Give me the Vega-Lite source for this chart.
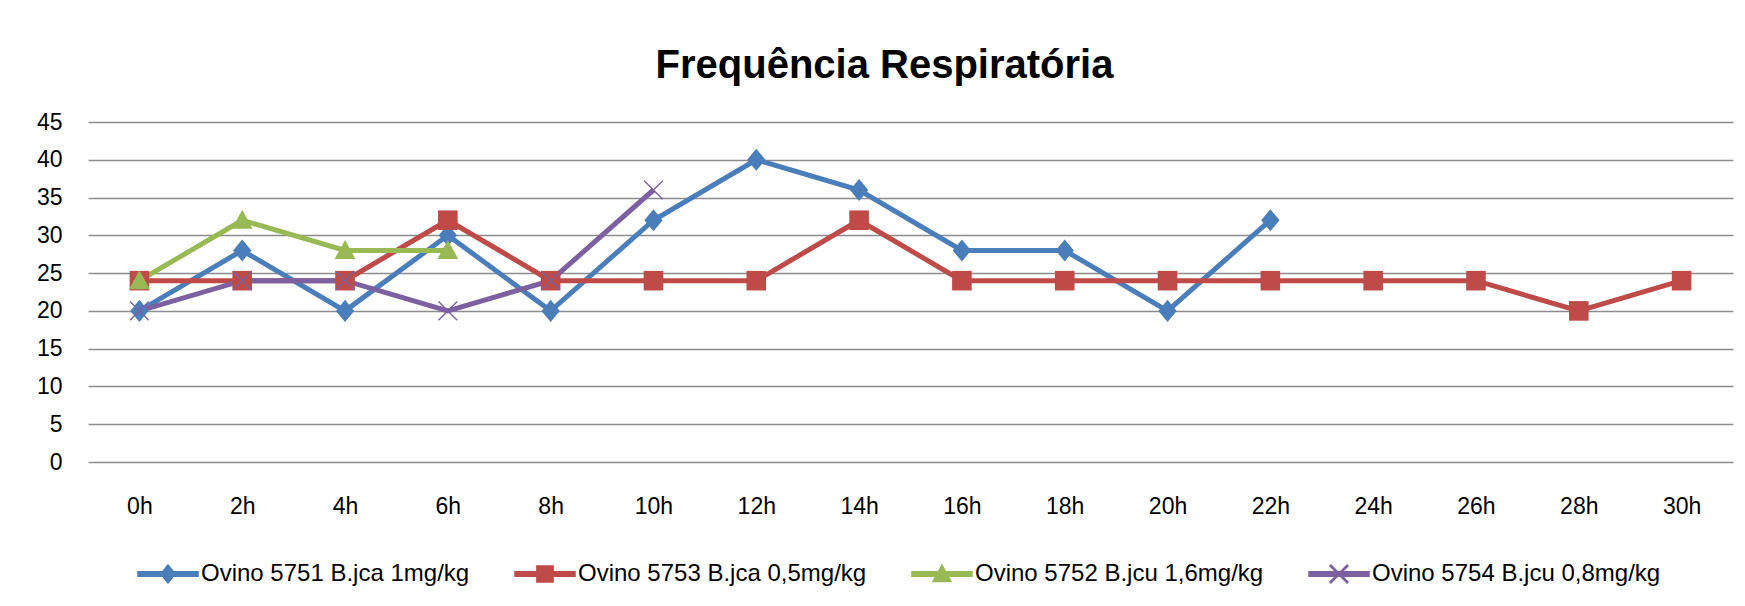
{
  "$schema": "https://vega.github.io/schema/vega-lite/v6.json",
  "width": 1645,
  "height": 340,
  "autosize": "none",
  "padding": {"left": 88, "top": 122, "right": 12, "bottom": 144},
  "background": "white",
  "config": {"view": {"stroke": null}},
  "title": {"text": "Frequência Respiratória", "font": "Liberation Sans", "fontSize": 40, "fontWeight": "bold", "color": "#000000", "anchor": "middle", "dx": -26, "dy": 57, "baseline": "alphabetic", "offset": 50},
  "data": {"values": [
    {"hora": "0h", "serie": "Ovino 5751 B.jca 1mg/kg", "valor": 20},
    {"hora": "2h", "serie": "Ovino 5751 B.jca 1mg/kg", "valor": 28},
    {"hora": "4h", "serie": "Ovino 5751 B.jca 1mg/kg", "valor": 20},
    {"hora": "6h", "serie": "Ovino 5751 B.jca 1mg/kg", "valor": 30},
    {"hora": "8h", "serie": "Ovino 5751 B.jca 1mg/kg", "valor": 20},
    {"hora": "10h", "serie": "Ovino 5751 B.jca 1mg/kg", "valor": 32},
    {"hora": "12h", "serie": "Ovino 5751 B.jca 1mg/kg", "valor": 40},
    {"hora": "14h", "serie": "Ovino 5751 B.jca 1mg/kg", "valor": 36},
    {"hora": "16h", "serie": "Ovino 5751 B.jca 1mg/kg", "valor": 28},
    {"hora": "18h", "serie": "Ovino 5751 B.jca 1mg/kg", "valor": 28},
    {"hora": "20h", "serie": "Ovino 5751 B.jca 1mg/kg", "valor": 20},
    {"hora": "22h", "serie": "Ovino 5751 B.jca 1mg/kg", "valor": 32},
    {"hora": "0h", "serie": "Ovino 5753 B.jca 0,5mg/kg", "valor": 24},
    {"hora": "2h", "serie": "Ovino 5753 B.jca 0,5mg/kg", "valor": 24},
    {"hora": "4h", "serie": "Ovino 5753 B.jca 0,5mg/kg", "valor": 24},
    {"hora": "6h", "serie": "Ovino 5753 B.jca 0,5mg/kg", "valor": 32},
    {"hora": "8h", "serie": "Ovino 5753 B.jca 0,5mg/kg", "valor": 24},
    {"hora": "10h", "serie": "Ovino 5753 B.jca 0,5mg/kg", "valor": 24},
    {"hora": "12h", "serie": "Ovino 5753 B.jca 0,5mg/kg", "valor": 24},
    {"hora": "14h", "serie": "Ovino 5753 B.jca 0,5mg/kg", "valor": 32},
    {"hora": "16h", "serie": "Ovino 5753 B.jca 0,5mg/kg", "valor": 24},
    {"hora": "18h", "serie": "Ovino 5753 B.jca 0,5mg/kg", "valor": 24},
    {"hora": "20h", "serie": "Ovino 5753 B.jca 0,5mg/kg", "valor": 24},
    {"hora": "22h", "serie": "Ovino 5753 B.jca 0,5mg/kg", "valor": 24},
    {"hora": "24h", "serie": "Ovino 5753 B.jca 0,5mg/kg", "valor": 24},
    {"hora": "26h", "serie": "Ovino 5753 B.jca 0,5mg/kg", "valor": 24},
    {"hora": "28h", "serie": "Ovino 5753 B.jca 0,5mg/kg", "valor": 20},
    {"hora": "30h", "serie": "Ovino 5753 B.jca 0,5mg/kg", "valor": 24},
    {"hora": "0h", "serie": "Ovino 5752 B.jcu 1,6mg/kg", "valor": 24},
    {"hora": "2h", "serie": "Ovino 5752 B.jcu 1,6mg/kg", "valor": 32},
    {"hora": "4h", "serie": "Ovino 5752 B.jcu 1,6mg/kg", "valor": 28},
    {"hora": "6h", "serie": "Ovino 5752 B.jcu 1,6mg/kg", "valor": 28},
    {"hora": "0h", "serie": "Ovino 5754 B.jcu 0,8mg/kg", "valor": 20},
    {"hora": "2h", "serie": "Ovino 5754 B.jcu 0,8mg/kg", "valor": 24},
    {"hora": "4h", "serie": "Ovino 5754 B.jcu 0,8mg/kg", "valor": 24},
    {"hora": "6h", "serie": "Ovino 5754 B.jcu 0,8mg/kg", "valor": 20},
    {"hora": "8h", "serie": "Ovino 5754 B.jcu 0,8mg/kg", "valor": 24},
    {"hora": "10h", "serie": "Ovino 5754 B.jcu 0,8mg/kg", "valor": 36}
  ]},
  "encoding": {
    "x": {
      "field": "hora", "type": "ordinal",
      "sort": ["0h","2h","4h","6h","8h","10h","12h","14h","16h","18h","20h","22h","24h","26h","28h","30h"],
      "scale": {"type": "point", "padding": 0.5},
      "axis": {"title": null, "domain": false, "ticks": false, "grid": false, "labelAngle": 0, "labelFont": "Liberation Sans", "labelFontSize": 23, "labelColor": "#000000", "labelPadding": 33}
    },
    "y": {
      "field": "valor", "type": "quantitative",
      "scale": {"domain": [0, 45], "nice": false},
      "axis": {"title": null, "values": [0,5,10,15,20,25,30,35,40,45], "domain": false, "ticks": false, "grid": true, "gridColor": "#8c8c8c", "gridWidth": 1.3, "labelFont": "Liberation Sans", "labelFontSize": 23, "labelColor": "#000000", "labelPadding": 26}
    },
    "color": {
      "field": "serie", "type": "nominal",
      "scale": {
        "domain": ["Ovino 5751 B.jca 1mg/kg", "Ovino 5753 B.jca 0,5mg/kg", "Ovino 5752 B.jcu 1,6mg/kg", "Ovino 5754 B.jcu 0,8mg/kg"],
        "range": ["#4A7EBB", "#BE4B48", "#98B954", "#7D60A0"]
      },
      "legend": {
        "orient": "none", "legendX": 49, "legendY": 421,
        "direction": "horizontal", "columns": 4, "title": null,
        "symbolSize": 3600, "padding": 0,
        "symbolType": {"expr": "datum.value === 'Ovino 5751 B.jca 1mg/kg' ? 'M-1,-0.075H1V0.075H-1Z M0,-0.3L0.24,0L0,0.3L-0.24,0Z' : datum.value === 'Ovino 5753 B.jca 0,5mg/kg' ? 'M-1,-0.075H1V0.075H-1Z M-0.27,-0.27H0.27V0.27H-0.27Z' : datum.value === 'Ovino 5752 B.jcu 1,6mg/kg' ? 'M-1,-0.075H1V0.075H-1Z M0,-0.3L0.3,0.25H-0.3Z' : 'M-1,-0.075H1V0.075H-1Z M-0.3,-0.27L-0.27,-0.3L0.3,0.27L0.27,0.3Z M-0.27,0.3L-0.3,0.27L0.27,-0.3L0.3,-0.27Z'"},
        "labelFont": "Liberation Sans", "labelFontSize": 24, "labelColor": "#000000",
        "labelOffset": 2, "columnPadding": 42, "labelLimit": 0
      }
    }
  },
  "layer": [
    {"mark": {"type": "line", "strokeWidth": 5}},
    {
      "mark": {
        "type": "point", "filled": true, "opacity": 1, "size": 600, "strokeWidth": 0,
        "shape": {"expr": "datum.serie ? (datum.serie === 'Ovino 5751 B.jca 1mg/kg' ? 'M0,-0.9L0.75,0L0,0.9L-0.75,0Z' : datum.serie === 'Ovino 5753 B.jca 0,5mg/kg' ? 'M-0.8,-0.8H0.8V0.8H-0.8Z' : datum.serie === 'Ovino 5752 B.jcu 1,6mg/kg' ? 'M0,-0.85L0.85,0.7H-0.85Z' : 'M-0.8,-0.72L-0.72,-0.8L0.8,0.72L0.72,0.8Z M-0.72,0.8L-0.8,0.72L0.72,-0.8L0.8,-0.72Z') : (datum.value === 'Ovino 5751 B.jca 1mg/kg' ? 'M-1,-0.075H1V0.075H-1Z M0,-0.3L0.24,0L0,0.3L-0.24,0Z' : datum.value === 'Ovino 5753 B.jca 0,5mg/kg' ? 'M-1,-0.075H1V0.075H-1Z M-0.27,-0.27H0.27V0.27H-0.27Z' : datum.value === 'Ovino 5752 B.jcu 1,6mg/kg' ? 'M-1,-0.075H1V0.075H-1Z M0,-0.3L0.3,0.25H-0.3Z' : 'M-1,-0.075H1V0.075H-1Z M-0.3,-0.27L-0.27,-0.3L0.3,0.27L0.27,0.3Z M-0.27,0.3L-0.3,0.27L0.27,-0.3L0.3,-0.27Z')"}
      }
    }
  ]
}
